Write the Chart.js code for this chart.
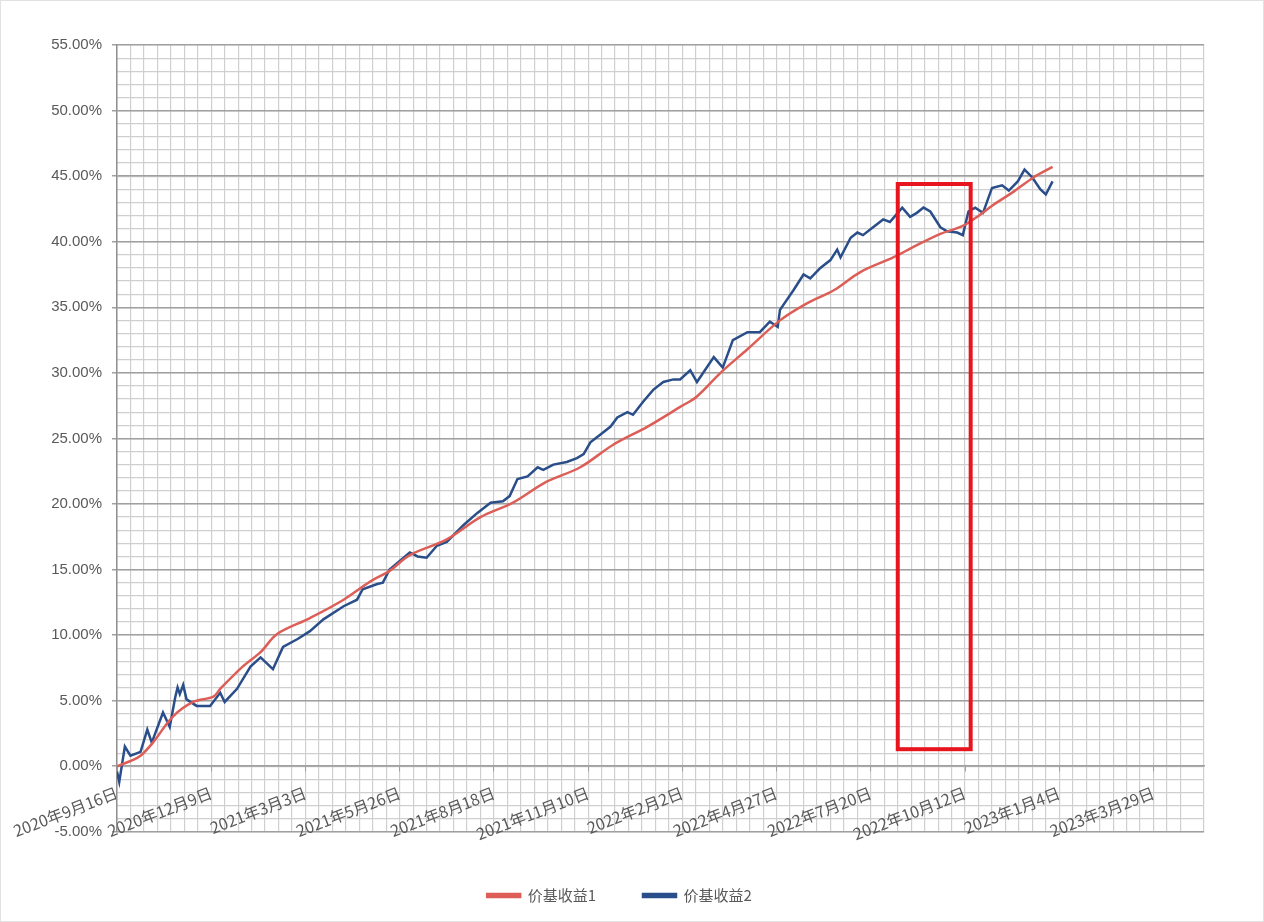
<!DOCTYPE html>
<html lang="zh">
<head>
<meta charset="UTF-8">
<title>价基收益</title>
<style>
  body { margin: 0; background: #fff; }
  #wrap { position: relative; width: 1264px; height: 922px; }
  #frame { position: absolute; left: 0; top: 0; width: 1262px; height: 920px; border: 1px solid #e2e2e2; pointer-events: none; }
</style>
</head>
<body>
<div id="wrap">
  <canvas id="chart" width="1264" height="922"></canvas>
  <div id="frame"></div>
</div>

<script src="https://cdn.jsdelivr.net/npm/chart.js"></script>
<script>
  // x values are days since 2020-09-16
  const tickDays = [0, 84, 168, 252, 336, 420, 504, 588, 672, 756, 840, 924];
  const tickLabels = ['2020年9月16日', '2020年12月9日', '2021年3月3日', '2021年5月26日',
    '2021年8月18日', '2021年11月10日', '2022年2月2日', '2022年4月27日',
    '2022年7月20日', '2022年10月12日', '2023年1月4日', '2023年3月29日'];
  const seriesNames = ['价基收益1', '价基收益2'];

  // 价基收益1 (smooth red line)
  const days1 = [0, 12, 21, 32, 50, 68, 86, 92, 112, 128, 143, 172, 202, 226, 243, 261,
    294, 324, 353, 383, 413, 442, 473, 502, 517, 538, 562, 591, 615, 639, 663, 692,
    710, 734, 754, 770, 781, 799, 817, 834];
  const gain1 = [0.0, 0.4, 0.8, 1.8, 3.8, 4.9, 5.3, 5.9, 7.6, 8.7, 10.1, 11.3, 12.7, 14.1, 14.9, 16.1,
    17.3, 19.0, 20.1, 21.7, 22.8, 24.5, 25.9, 27.4, 28.2, 30.0, 31.8, 34.0, 35.3, 36.3, 37.7, 38.8,
    39.6, 40.6, 41.2, 42.1, 42.8, 43.8, 44.9, 45.7];

  // 价基收益2 (noisy blue line)
  const days2 = [0, 2, 7, 12, 21, 27, 31, 41, 47, 52, 54, 56, 59, 62, 71, 83, 92, 96, 107, 119,
    128, 139, 148, 161, 172, 184, 202, 214, 219, 232, 237, 243, 261, 268, 276, 285, 294, 309,
    321, 333, 344, 350, 357, 366, 375, 380, 389, 401, 410, 416, 422, 431, 440, 446, 455, 460,
    469, 478, 487, 496, 502, 511, 517, 532, 540, 549, 562, 573, 582, 589, 591, 603, 612, 618,
    627, 636, 642, 645, 654, 660, 665, 674, 683, 689, 696, 700, 707, 713, 719, 725, 734, 740,
    749, 754, 759, 765, 772, 780, 789, 795, 803, 809, 816, 823, 828, 834];
  const gain2 = [-0.4, -1.2, 1.5, 0.8, 1.1, 2.8, 1.8, 4.1, 3.0, 5.3, 6.0, 5.5, 6.2, 5.1, 4.6, 4.6, 5.6, 4.9, 5.9, 7.6,
    8.3, 7.4, 9.1, 9.7, 10.3, 11.2, 12.2, 12.7, 13.5, 13.9, 14.0, 15.0, 16.3, 16.0, 15.9, 16.8, 17.1, 18.4,
    19.3, 20.1, 20.2, 20.6, 21.9, 22.1, 22.8, 22.6, 23.0, 23.2, 23.5, 23.8, 24.7, 25.3, 25.9, 26.6, 27.0, 26.8,
    27.8, 28.7, 29.3, 29.5, 29.5, 30.2, 29.3, 31.2, 30.4, 32.5, 33.1, 33.1, 33.9, 33.5, 34.8, 36.3, 37.5, 37.2,
    38.0, 38.6, 39.4, 38.8, 40.3, 40.7, 40.5, 41.1, 41.7, 41.5, 42.2, 42.6, 41.9, 42.2, 42.6, 42.3, 41.1, 40.8,
    40.7, 40.5, 42.3, 42.6, 42.2, 44.1, 44.3, 43.9, 44.6, 45.5, 44.9, 44.0, 43.6, 44.6];

  // highlighted period (days, %)
  const boxDays = [696, 761];
  const boxRange = [1.3, 44.4];

  const grey = '#595959';
  const cjk = '"Noto Sans CJK SC", "Liberation Sans", sans-serif';

  const boxPlugin = {
    id: 'boxPlugin',
    afterDatasetsDraw(chart) {
      const { ctx, scales } = chart;
      const x1 = scales.x.getPixelForValue(boxDays[0]);
      const x2 = scales.x.getPixelForValue(boxDays[1]);
      const y1 = scales.y.getPixelForValue(boxRange[1]);
      const y2 = scales.y.getPixelForValue(boxRange[0]);
      ctx.save();
      ctx.strokeStyle = '#E8141E';
      ctx.lineWidth = 4;
      ctx.strokeRect(x1, y1, x2 - x1, y2 - y1);
      ctx.restore();
    }
  };

  const ctx = document.getElementById('chart').getContext('2d');
  new Chart(ctx, {
    type: 'line',
    data: {
      datasets: [{
        label: seriesNames[0],
        data: days1.map((d, i) => ({ x: d, y: gain1[i] })),
        borderColor: '#DD5E57',
        backgroundColor: '#DD5E57',
        borderWidth: 2.5,
        pointRadius: 0,
        tension: 0.35
      }, {
        label: seriesNames[1],
        data: days2.map((d, i) => ({ x: d, y: gain2[i] })),
        borderColor: '#2A4E8A',
        backgroundColor: '#2A4E8A',
        borderWidth: 2.5,
        pointRadius: 0,
        tension: 0
      }]
    },
    options: {
      responsive: false,
      animation: false,
      devicePixelRatio: 1,
      layout: { padding: { left: 0, top: 45, right: 25, bottom: 9 } },
      plugins: {
        tooltip: { enabled: false },
        legend: {
          position: 'bottom',
          title: { display: true, text: '', font: { size: 1 }, padding: { top: 0, bottom: 8 } },
          labels: {
            boxWidth: 33,
            boxHeight: 3,
            padding: 47,
            color: grey,
            font: { family: cjk, size: 15 }
          }
        }
      },
      scales: {
        xMinor: {
          type: 'linear', min: 0, max: 969, position: 'bottom', z: -1,
          ticks: { display: false, stepSize: 12 },
          grid: { color: '#cfcfcf', lineWidth: 1.2, drawTicks: false },
          border: { display: false },
          afterFit(s) { s.height = 0; }
        },
        yMinor: {
          type: 'linear', min: -5, max: 55, position: 'left', z: -1,
          ticks: { display: false, stepSize: 1 },
          grid: { color: '#cfcfcf', lineWidth: 1.2, drawTicks: false },
          border: { display: false },
          afterFit(s) { s.width = 0; }
        },
        // empty spacer on the right so the legend centres like the original
        yPad: {
          type: 'linear', position: 'right',
          ticks: { display: false },
          grid: { display: false },
          border: { display: false },
          afterFit(s) { s.width = 35; }
        },
        x: {
          type: 'linear', min: 0, max: 969, position: { y: 0 },
          afterBuildTicks(s) { s.ticks = tickDays.map(v => ({ value: v })); },
          ticks: {
            autoSkip: false, minRotation: 21, maxRotation: 21, padding: 12,
            color: grey, font: { family: cjk, size: 16 },
            callback: v => tickLabels[tickDays.indexOf(v)]
          },
          grid: { drawOnChartArea: false, tickLength: 5, color: '#a0a0a0' },
          border: { color: '#a0a0a0', width: 1.5 },
          afterFit(s) { s.height = 0; }
        },
        y: {
          type: 'linear', min: -5, max: 55, position: 'left',
          ticks: {
            stepSize: 5, padding: 10, color: grey,
            font: { family: '"Liberation Sans", sans-serif', size: 15 },
            callback: v => v.toFixed(2) + '%'
          },
          grid: { color: '#a0a0a0', lineWidth: 1.5, tickLength: 5 },
          border: { color: '#909090', width: 1.5 },
          afterFit(s) { s.width = 117; }
        }
      }
    },
    plugins: [boxPlugin]
  });
</script>
</body>
</html>
